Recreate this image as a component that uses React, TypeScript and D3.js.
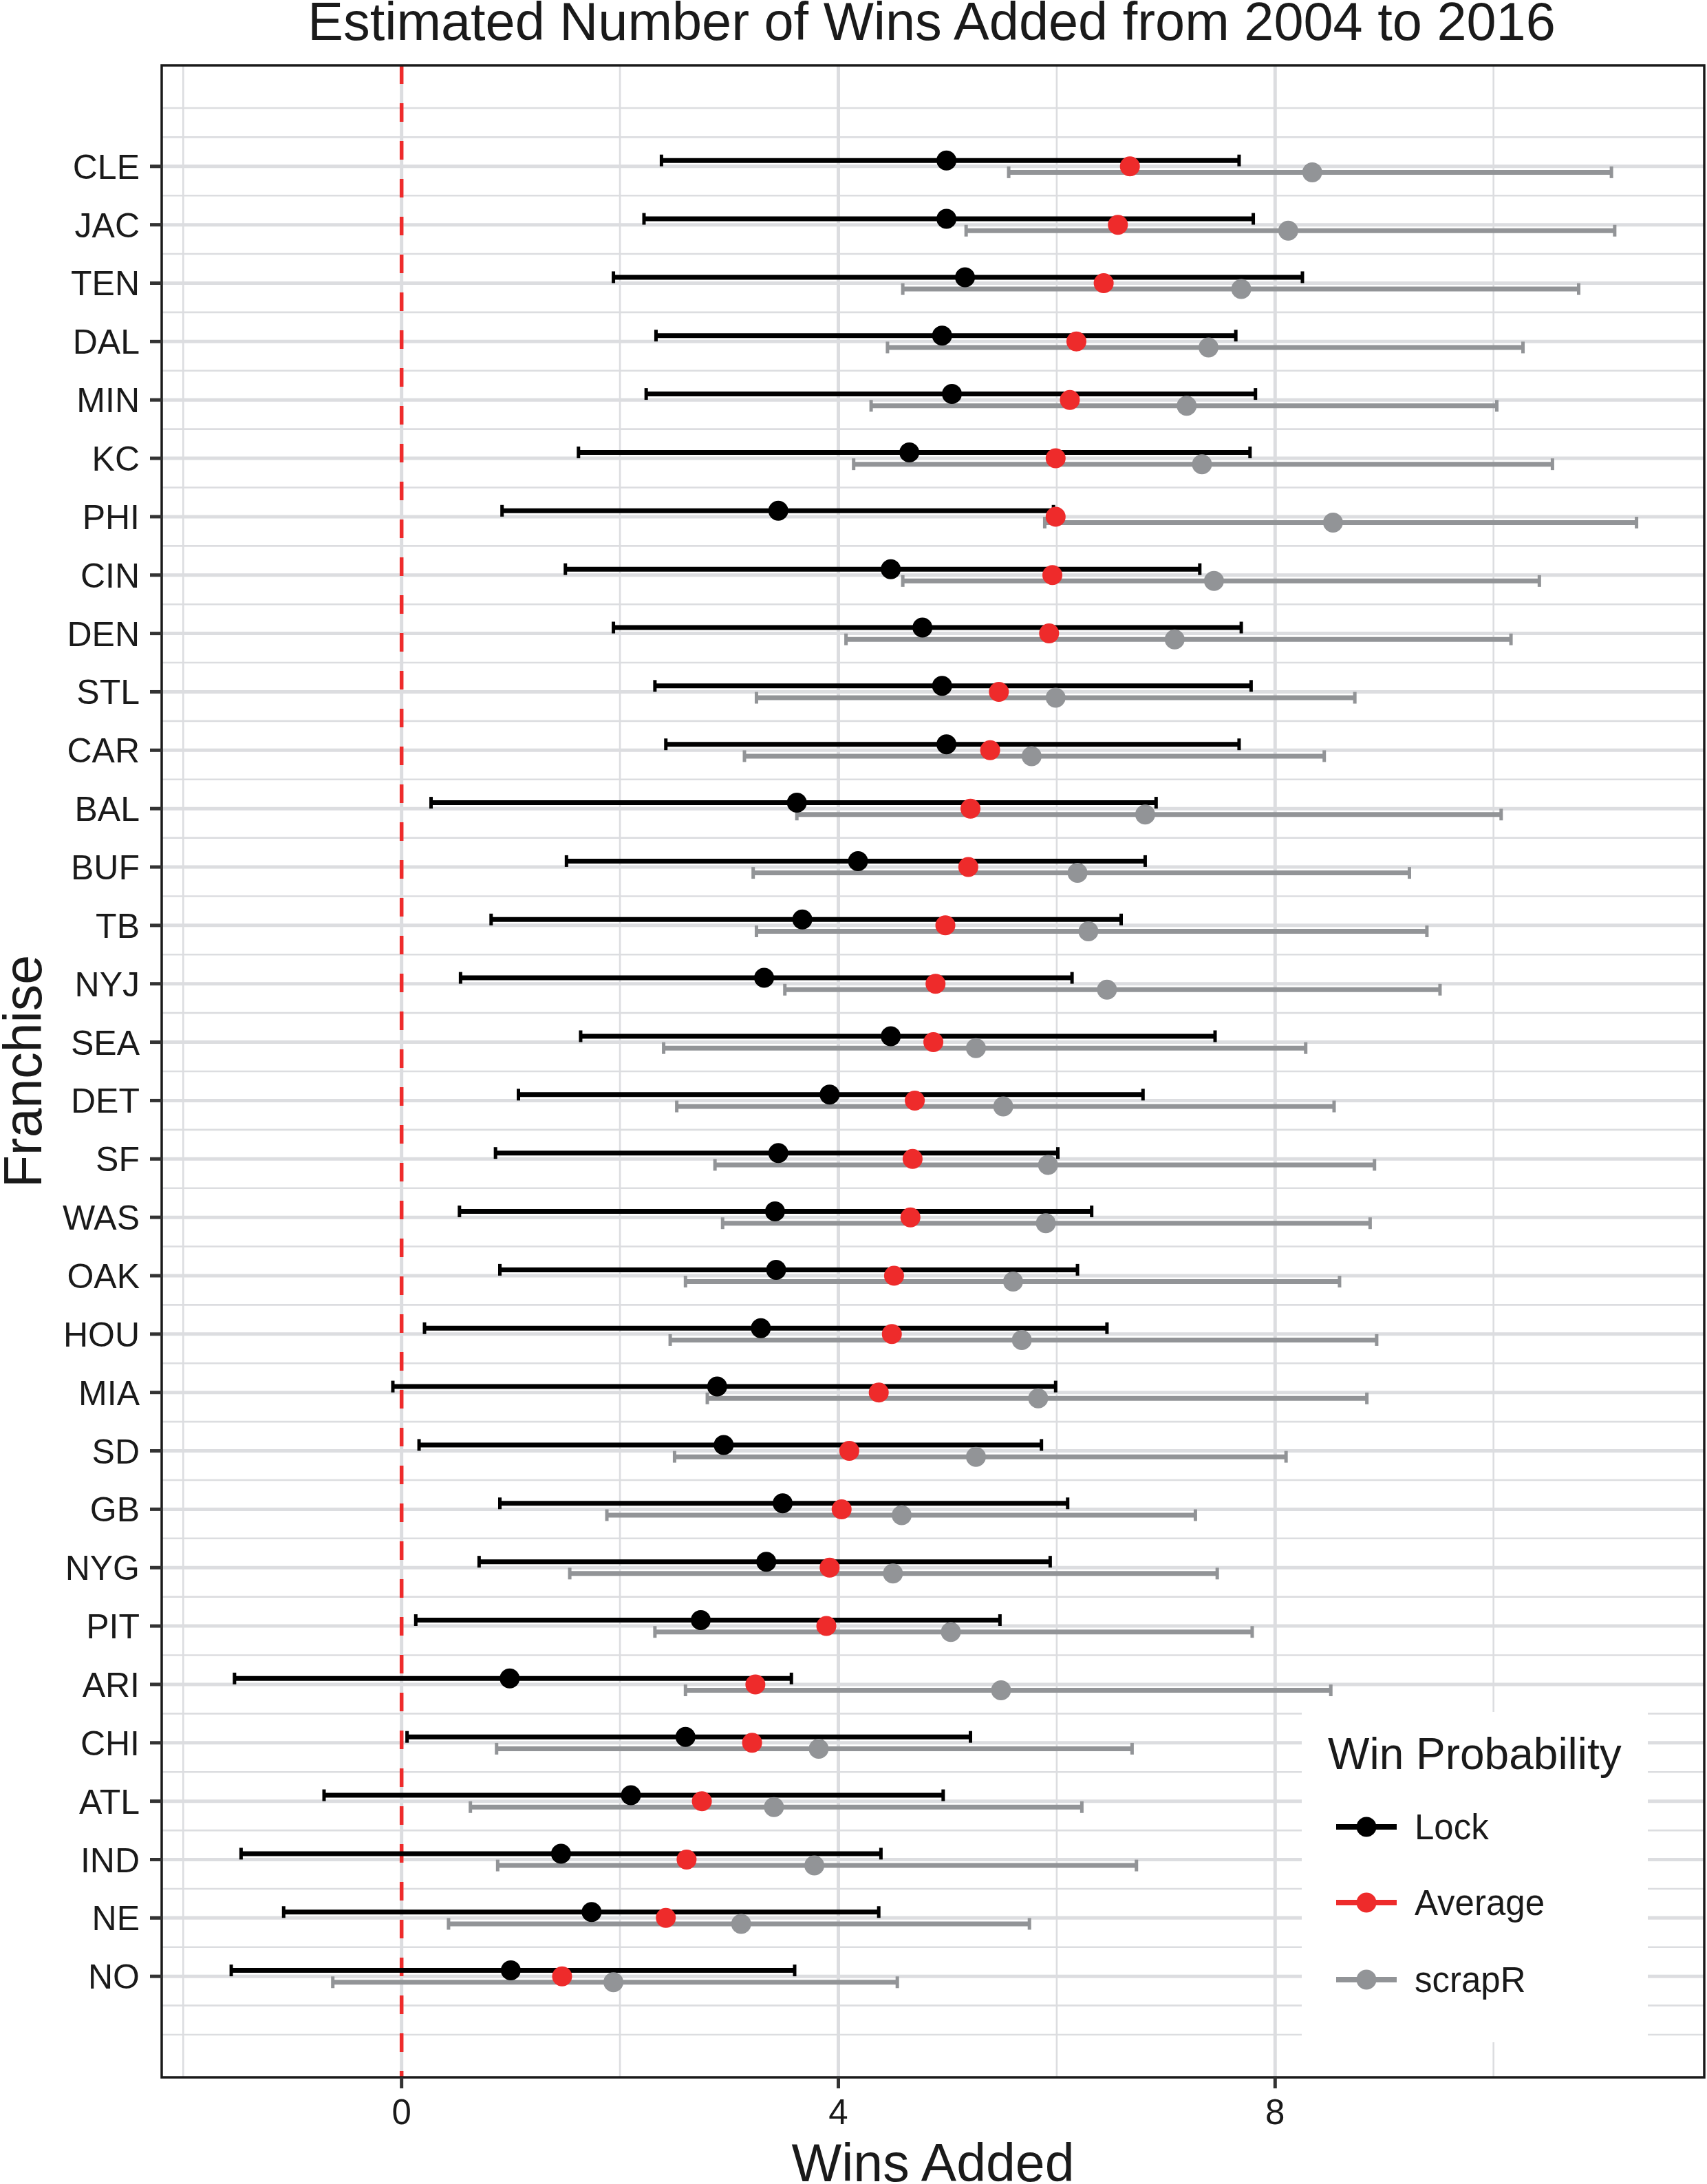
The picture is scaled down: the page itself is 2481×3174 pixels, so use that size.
import React from "react";
import * as d3 from "d3";

const teams = ["CLE","JAC","TEN","DAL","MIN","KC","PHI","CIN","DEN","STL","CAR","BAL","BUF","TB","NYJ","SEA","DET","SF","WAS","OAK","HOU","MIA","SD","GB","NYG","PIT","ARI","CHI","ATL","IND","NE","NO"];

const lockLow = [2.38,2.22,1.94,2.33,2.24,1.62,0.92,1.50,1.94,2.32,2.42,0.27,1.51,0.82,0.54,1.64,1.07,0.86,0.53,0.90,0.21,-0.08,0.16,0.90,0.71,0.13,-1.53,0.05,-0.71,-1.47,-1.08,-1.56];
const lockEst = [4.99,4.99,5.16,4.95,5.04,4.65,3.45,4.48,4.77,4.95,4.99,3.62,4.18,3.67,3.32,4.48,3.92,3.45,3.42,3.43,3.29,2.89,2.95,3.49,3.34,2.74,0.99,2.60,2.10,1.46,1.74,1.00];
const lockHigh = [7.67,7.80,8.25,7.64,7.82,7.77,5.97,7.31,7.69,7.78,7.67,6.91,6.81,6.59,6.14,7.45,6.79,6.01,6.32,6.19,6.46,5.99,5.86,6.10,5.94,5.48,3.57,5.21,4.96,4.39,4.37,3.60];
const avgEst = [6.67,6.56,6.43,6.18,6.12,5.99,5.99,5.96,5.93,5.47,5.39,5.21,5.19,4.98,4.89,4.87,4.70,4.68,4.66,4.51,4.49,4.37,4.10,4.03,3.92,3.89,3.24,3.21,2.75,2.61,2.42,1.47];
const scrapLow = [5.56,5.17,4.59,4.45,4.30,4.14,5.89,4.59,4.07,3.25,3.14,3.62,3.22,3.25,3.51,2.40,2.52,2.87,2.94,2.60,2.46,2.80,2.50,1.88,1.54,2.32,2.60,0.87,0.63,0.88,0.43,-0.63];
const scrapEst = [8.34,8.12,7.69,7.39,7.19,7.33,8.53,7.44,7.08,5.99,5.77,6.81,6.19,6.29,6.46,5.26,5.51,5.92,5.90,5.60,5.68,5.83,5.26,4.58,4.50,5.03,5.49,3.82,3.41,3.78,3.11,1.94];
const scrapHigh = [11.08,11.11,10.78,10.27,10.03,10.54,11.31,10.42,10.16,8.73,8.45,10.07,9.23,9.39,9.51,8.28,8.54,8.91,8.87,8.59,8.93,8.84,8.10,7.27,7.47,7.79,8.51,6.69,6.23,6.73,5.75,4.54];

const xTicks = [0, 4, 8];
const xMinor = [-2, 2, 6, 10];
const seriesNames = ["Lock", "Average", "scrapR"];
const seriesColors = ["#000000", "#ee2b2b", "#929497"];

const W = 2481, H = 3174;
const panel = { left: 235, right: 2477, top: 95, bottom: 3019 };
const FONT = "'Liberation Sans', Arial, Helvetica, sans-serif";
const GRID = "#dcdde0";

export default function App() {
  const x = d3.scaleLinear().domain([-2.197, 11.93]).range([panel.left, panel.right]);
  const y = d3.scalePoint<string>().domain(teams).range([panel.top, panel.bottom]).padding(1.73);
  const step = y.step();
  const y0 = y(teams[0]) as number;
  const yAt = (i: number) => y0 + i * step;
  const dodge = 8.6;
  const capH = 8.5;
  const r = 14.5;

  const minorY: number[] = [-1];
  for (let i = 0; i < teams.length; i++) minorY.push(i - 0.5);
  minorY.push(teams.length - 0.5, teams.length);

  const legend = { x: 1892, y: 2488, w: 503, h: 480 };
  const legendRows = [2655, 2765, 2877];

  const bar = (lo: number, hi: number, cy: number, color: string, key: string) => (
    <g key={key} stroke={color} strokeWidth={7}>
      <line x1={x(lo)} x2={x(hi)} y1={cy} y2={cy} />
      <line x1={x(lo)} x2={x(lo)} y1={cy - capH} y2={cy + capH} strokeWidth={5} />
      <line x1={x(hi)} x2={x(hi)} y1={cy - capH} y2={cy + capH} strokeWidth={5} />
    </g>
  );

  return (
    <svg width={W} height={H} style={{ position: "absolute", left: 0, top: 0, display: "block", background: "#fff" }} fontFamily={FONT}>
      <rect x={0} y={0} width={W} height={H} fill="#fff" />
      <text x={1354} y={58} fontSize={77.5} textAnchor="middle" fill="#1a1a1a">
        Estimated Number of Wins Added from 2004 to 2016
      </text>

      {/* panel background + grid */}
      <rect x={panel.left} y={panel.top} width={panel.right - panel.left} height={panel.bottom - panel.top} fill="#fff" />
      {minorY.map((i, k) => (
        <line key={"hm" + k} x1={panel.left} x2={panel.right} y1={yAt(i)} y2={yAt(i)} stroke={GRID} strokeWidth={2.6} />
      ))}
      {teams.map((t) => (
        <line key={"hM" + t} x1={panel.left} x2={panel.right} y1={y(t)} y2={y(t)} stroke={GRID} strokeWidth={5} />
      ))}
      {xMinor.map((v) => (
        <line key={"vm" + v} x1={x(v)} x2={x(v)} y1={panel.top} y2={panel.bottom} stroke={GRID} strokeWidth={2.6} />
      ))}
      {xTicks.map((v) => (
        <line key={"vM" + v} x1={x(v)} x2={x(v)} y1={panel.top} y2={panel.bottom} stroke={GRID} strokeWidth={5} />
      ))}

      {/* zero reference */}
      <line x1={x(0)} x2={x(0)} y1={panel.top} y2={panel.bottom} stroke="#ee2b2b" strokeWidth={5.5} strokeDasharray="27 28" />

      {/* error bars */}
      {teams.map((t, i) => bar(lockLow[i], lockHigh[i], (y(t) as number) - dodge, seriesColors[0], "lb" + t))}
      {teams.map((t, i) => bar(scrapLow[i], scrapHigh[i], (y(t) as number) + dodge, seriesColors[2], "sb" + t))}

      {/* points */}
      {teams.map((t, i) => (
        <circle key={"lp" + t} cx={x(lockEst[i])} cy={(y(t) as number) - dodge} r={r} fill={seriesColors[0]} />
      ))}
      {teams.map((t, i) => (
        <circle key={"sp" + t} cx={x(scrapEst[i])} cy={(y(t) as number) + dodge} r={r} fill={seriesColors[2]} />
      ))}
      {teams.map((t, i) => (
        <circle key={"ap" + t} cx={x(avgEst[i])} cy={y(t)} r={r} fill={seriesColors[1]} />
      ))}

      {/* legend */}
      <rect x={legend.x} y={legend.y} width={legend.w} height={legend.h} fill="#fff" />
      <text x={1930} y={2571} fontSize={64} fill="#1a1a1a">Win Probability</text>
      {seriesNames.map((s, k) => (
        <g key={"lg" + s}>
          <line x1={1942} x2={2030} y1={legendRows[k]} y2={legendRows[k]} stroke={seriesColors[k]} strokeWidth={8} />
          <circle cx={1986} cy={legendRows[k]} r={14.5} fill={seriesColors[k]} />
          <text x={2056} y={legendRows[k] + 18} fontSize={51} fill="#1a1a1a">{s}</text>
        </g>
      ))}

      {/* panel border */}
      <rect x={panel.left} y={panel.top} width={panel.right - panel.left} height={panel.bottom - panel.top} fill="none" stroke="#1a1a1a" strokeWidth={3.5} />

      {/* y axis ticks + labels */}
      {teams.map((t) => (
        <g key={"yt" + t}>
          <line x1={218} x2={panel.left} y1={y(t)} y2={y(t)} stroke="#333" strokeWidth={5} />
          <text x={203} y={(y(t) as number) + 18} fontSize={50} textAnchor="end" fill="#1a1a1a">{t}</text>
        </g>
      ))}

      {/* x axis ticks + labels */}
      {xTicks.map((v) => (
        <g key={"xt" + v}>
          <line x1={x(v)} x2={x(v)} y1={panel.bottom} y2={panel.bottom + 16} stroke="#333" strokeWidth={5} />
          <text x={x(v)} y={3087} fontSize={51} textAnchor="middle" fill="#1a1a1a">{v}</text>
        </g>
      ))}

      <text x={(panel.left + panel.right) / 2} y={3170} fontSize={77} textAnchor="middle" fill="#1a1a1a">Wins Added</text>
      <text transform={`translate(60, ${(panel.top + panel.bottom) / 2}) rotate(-90)`} fontSize={77} textAnchor="middle" fill="#1a1a1a">Franchise</text>
    </svg>
  );
}
